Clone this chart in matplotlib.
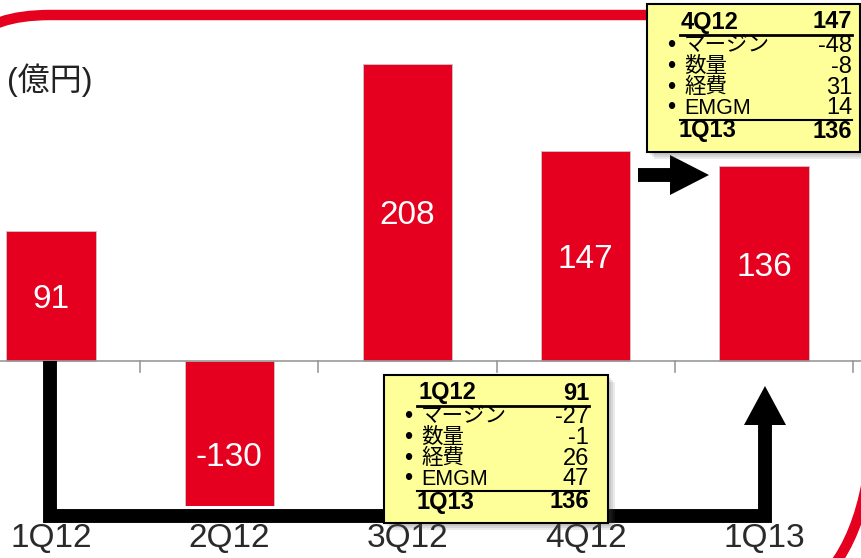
import matplotlib.pyplot as plt
from matplotlib.patches import Rectangle, Polygon, PathPatch
from matplotlib.path import Path

plt.rcParams['font.family'] = ['Liberation Sans', 'Noto Sans CJK JP', 'DejaVu Sans']

# data
quarters = ['1Q12', '2Q12', '3Q12', '4Q12', '1Q13']
profit = [91, -130, 208, 147, 136]

bridge_items = ['マージン', '数量', '経費', 'EMGM']
bridge_from_4q12 = [-48, -8, 31, 14]
bridge_from_1q12 = [-27, -1, 26, 47]
start_4q12 = ('4Q12', 147)
start_1q12 = ('1Q12', 91)
end_total = ('1Q13', 136)

RED = '#E5001F'

fig = plt.figure(figsize=(8.61, 5.58), dpi=100)
ax = fig.add_axes([0, 52 / 558, 1, 506 / 558])

x = range(len(quarters))
bars = ax.bar(x, profit, width=0.5, color=RED, edgecolor='#c8c8c8', linewidth=0.6, zorder=2)
for xi, v in zip(x, profit):
    ax.text(xi, v / 2, str(v), ha='center', va='center_baseline', color='white', fontsize=24)

ax.set_xlim(-0.286, 4.544)
ax.set_ylim(-101.4, 252.4)
ax.axhline(0, color='#999999', lw=1.2, zorder=3)
for b in [0.5, 1.5, 2.5, 3.5, 4.5]:
    ax.plot([b, b], [0, -7.5], color='#999999', lw=1.2, zorder=3)
ax.set_xticks(list(x))
ax.set_xticklabels(quarters, fontsize=24, color='#2a2a2a')
ax.tick_params(axis='x', length=0, pad=12)
ax.set_yticks([])
for s in ax.spines.values():
    s.set_visible(False)

# overlay in pixel coordinates for decorations
ov = fig.add_axes([0, 0, 1, 1])
ov.set_xlim(0, 861)
ov.set_ylim(558, 0)
ov.axis('off')
ov.patch.set_alpha(0)

# red rounded frame pieces
top = Path([(-30, 42), (-8, 15), (50, 15), (880, 15)],
           [Path.MOVETO, Path.CURVE3, Path.CURVE3, Path.LINETO])
ov.add_patch(PathPatch(top, fc='none', ec=RED, lw=7.5, zorder=1))
br = Path([(872, 440), (864, 560), (796, 600)], [Path.MOVETO, Path.CURVE3, Path.CURVE3])
ov.add_patch(PathPatch(br, fc='none', ec=RED, lw=7.5, zorder=1))

ov.text(7, 80, '(億円)', fontsize=23, va='center', ha='left', color='#222222')

# black bridge arrows
ov.plot([50, 50, 765, 765], [361, 516, 516, 424], color='black', lw=10,
        solid_joinstyle='miter', solid_capstyle='butt', zorder=2)
ov.add_patch(Polygon([(744, 425), (786, 425), (765, 386)], closed=True, fc='black', zorder=2))
ov.plot([638, 671], [175, 175], color='black', lw=10, solid_capstyle='butt', zorder=2)
ov.add_patch(Polygon([(670, 155), (670, 195), (709, 175)], closed=True, fc='black', zorder=2))


def draw_box(x0, y0, w, h, num_x, head, items, vals, total):
    for k, a in enumerate([0.12, 0.12, 0.12]):
        ov.add_patch(Rectangle((x0 + 3 + 2 * k, y0 + 3 + 2 * k), w, h, fc='#555555',
                               ec='none', alpha=a, zorder=4))
    ov.add_patch(Rectangle((x0, y0), w, h, fc='#FFFF99', ec='black', lw=1.5, zorder=5))
    fs = 17
    fs_jp = 15.5
    ov.text(x0 + 34, y0 + 18, head[0], fontsize=fs, fontweight='bold', va='center', zorder=6)
    ov.text(num_x, y0 + 18, str(head[1]), fontsize=fs, fontweight='bold', va='center',
            ha='right', zorder=6)
    ov.plot([x0 + 33, num_x], [y0 + 31, y0 + 31], color='black', lw=2, zorder=6)
    for k, (lab, v) in enumerate(zip(items, vals)):
        yy = y0 + 42 + 20.8 * k
        ov.text(x0 + 24, yy, '•', fontsize=fs, va='center', ha='center', zorder=6)
        ov.text(x0 + 37, yy, lab, fontsize=fs_jp, va='center', zorder=6)
        ov.text(num_x, yy, str(v), fontsize=fs, va='center', ha='right', zorder=6)
    ov.plot([x0 + 33, num_x], [y0 + 116, y0 + 116], color='black', lw=1.5, zorder=6)
    ov.text(x0 + 32, y0 + 127, total[0], fontsize=fs, fontweight='bold', va='center', zorder=6)
    ov.text(num_x, y0 + 127, str(total[1]), fontsize=fs, fontweight='bold', va='center',
            ha='right', zorder=6)


draw_box(647, 4, 213, 148, 852, start_4q12, bridge_items, bridge_from_4q12, end_total)
draw_box(384, 375, 224, 148, 589, start_1q12, bridge_items, bridge_from_1q12, end_total)

fig.savefig('out.png', dpi=100)
